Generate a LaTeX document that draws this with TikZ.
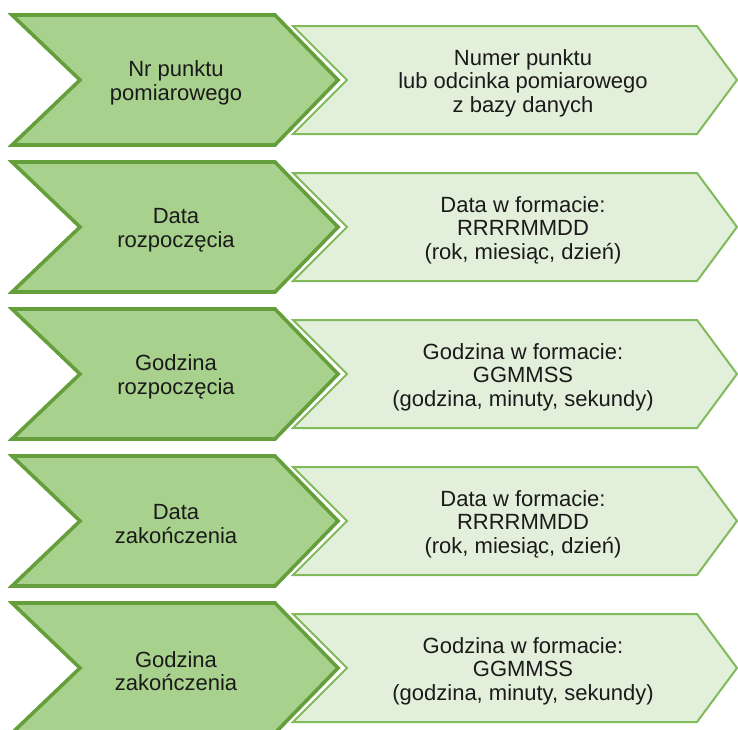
\documentclass[tikz,border=0pt]{standalone}
\usepackage{fontspec}
\setmainfont{Liberation Sans}
\definecolor{darkfill}{HTML}{A9D18E}
\definecolor{darkline}{HTML}{659F3C}
\definecolor{lightfill}{HTML}{E2EFDA}
\definecolor{lightline}{HTML}{80BA5A}
\definecolor{txt}{HTML}{1A1A1A}
\tikzset{
  leftchev/.style={fill=darkfill, draw=darkline, line width=3.6pt, line join=miter},
  rightchev/.style={fill=lightfill, draw=lightline, line width=2pt, line join=miter},
  lbl/.style={align=center, text=txt, font=\fontsize{22}{23.5}\selectfont, inner sep=0pt},
}
\newcommand{\chevrow}[5]{%
  \path[leftchev] (12,#1) -- (275,#1) -- (338,#1+65) -- (275,#1+130) -- (12,#1+130) -- (80,#1+65) -- cycle;
  \path[rightchev] (293,#1+11) -- (697,#1+11) -- (737,#1+65) -- (697,#1+119) -- (293,#1+119) -- (347,#1+65) -- cycle;
  \node[lbl] (#2l) at (176,#1+68) {#3};
  \node[lbl] (#2r) at (523,#1+68) {#4};
}
\begin{document}
\begin{tikzpicture}[x=1pt, y=-1pt]
\useasboundingbox (0,0) rectangle (738,729);
\chevrow{15}{a}{Nr punktu\\pomiarowego}{Numer punktu\\lub odcinka pomiarowego\\z bazy danych}{}
\chevrow{162}{b}{Data\\rozpoczęcia}{Data w formacie:\\RRRRMMDD\\(rok, miesiąc, dzień)}{}
\chevrow{309}{c}{Godzina\\rozpoczęcia}{Godzina w formacie:\\GGMMSS\\(godzina, minuty, sekundy)}{}
\chevrow{456}{d}{Data\\zakończenia}{Data w formacie:\\RRRRMMDD\\(rok, miesiąc, dzień)}{}
\chevrow{603}{e}{Godzina\\zakończenia}{Godzina w formacie:\\GGMMSS\\(godzina, minuty, sekundy)}{}
\end{tikzpicture}
\end{document}
